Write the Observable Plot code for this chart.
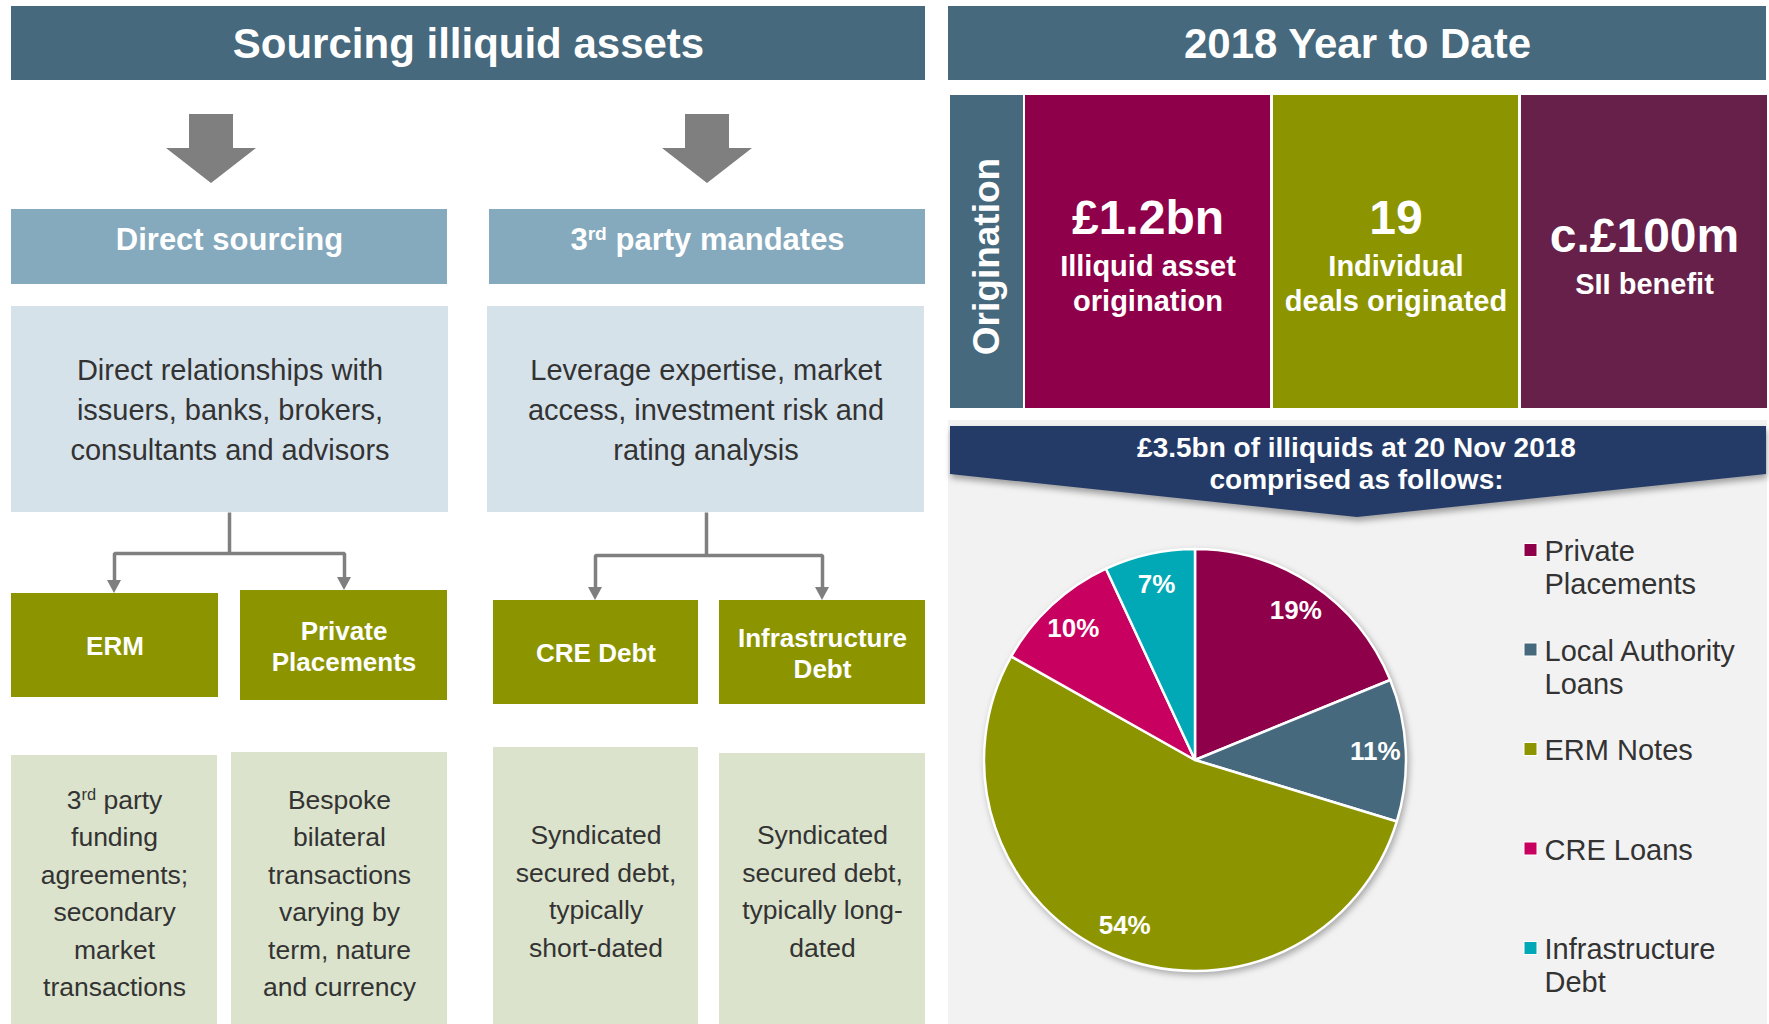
<!DOCTYPE html>
<html><head><meta charset="utf-8">
<script src="https://cdn.jsdelivr.net/npm/d3@7"></script>
<script src="https://cdn.jsdelivr.net/npm/@observablehq/plot@0.6"></script>
<style>html,body{margin:0;padding:0;background:#fff;} #chart svg{display:block}</style>
</head><body><div id="chart"></div>
<script>
// ---------- DATA ----------
const sectionTitles = ["Sourcing illiquid assets", "2018 Year to Date"];
const channels = ["Direct sourcing", "3rd party mandates"];
const channelDescriptions = [
  "Direct relationships with\nissuers, banks, brokers,\nconsultants and advisors",
  "Leverage expertise, market\naccess, investment risk and\nrating analysis"
];
const assetTypes = ["ERM", "Private\nPlacements", "CRE Debt", "Infrastructure\nDebt"];
const assetDescriptions = [
  "3rd party\nfunding\nagreements;\nsecondary\nmarket\ntransactions",
  "Bespoke\nbilateral\ntransactions\nvarying by\nterm, nature\nand currency",
  "Syndicated\nsecured debt,\ntypically\nshort-dated",
  "Syndicated\nsecured debt,\ntypically long-\ndated"
];
const originationLabel = "Origination";
const originationHeadlines = ["£1.2bn", "19", "c.£100m"];
const originationCaptions = ["Illiquid asset\norigination", "Individual\ndeals originated", "SII benefit"];
const bannerText = "£3.5bn of illiquids at 20 Nov 2018\ncomprised as follows:";
const pieCategories = ["Private\nPlacements", "Local Authority\nLoans", "ERM Notes", "CRE Loans", "Infrastructure\nDebt"];
const pieShares = [19, 11, 54, 10, 7];

// ---------- STYLE ----------
const FONT = "'Liberation Sans', Arial, Helvetica, sans-serif";
const COL = {title:"#46697d", header:"#85a9bd", desc:"#d6e2ea", olive:"#8c9500", sage:"#dce3cc",
  arrow:"#7f7f7f", navy:"#243b68", panel:"#f2f2f2", text:"#333333"};
const tileColors = [COL.title, "#8e0049", "#8c9500", "#66204a"];
const pieColors = ["#8e0049", "#46697d", "#8c9500", "#c8005f", "#00a9b5"];

// ---------- LAYOUT (pixel frame) ----------
const W = 1769, H = 1024;
const titleBoxes = [[11,925,6,80],[948,1766,6,80]];
const headerBoxes = [[11,447,209,284],[489,925,209,284]];
const descBoxes = [[11,448,306,512],[487,924,306,512]];
const assetBoxes = [[11,218,593,697],[240,447,590,700],[493,698,600,704],[719,925,600,704]];
const assetDescBoxes = [[11,217,755,1024],[231,447,752,1024],[493,698,747,1024],[719,925,753,1024]];
const tileBoxes = [[950,1023,95,408],[1025,1270,95,408],[1273,1518,95,408],[1521,1767,95,408]];
const panelBox = [948,1767,420,1024];
const bigArrowX = [211, 707];
const connectorPaths = [
  [[229,512],[229,553],[114,553],[114,584]],
  [[229,553],[344,553],[344,581]],
  [[706,512],[706,555],[595,555],[595,591]],
  [[706,555],[822,555],[822,591]]
];
const arrowTips = [[114,593],[344,590],[595,600],[822,600]];
const pieCenter = [1195, 760], pieRadius = 211, labelRadius = 180;
const legendX = 1524, legendY0 = 550, legendStep = 99.5, legendLine = 33;

const cx = b => (b[0]+b[1])/2, cy = b => (b[2]+b[3])/2;

function polygonMark(polys, attrs) {
  return (index, scales) => {
    const g = d3.create("svg:g");
    for (const pts of polys) {
      const p = g.append("path")
        .attr("d", "M" + pts.map(([x,y]) => scales.x(x) + "," + scales.y(y)).join("L") + "Z");
      for (const k in attrs) p.attr(k, attrs[k]);
    }
    return g.node();
  };
}

const bigArrows = bigArrowX.map(x => [[x-22,114],[x+22,114],[x+22,148],[x+45,148],[x,183],[x-45,148],[x-22,148]]);
const smallHeads = arrowTips.map(([x,y]) => [[x-7,y-13],[x+7,y-13],[x,y]]);
const banner = [[950,426],[1766,426],[1766,474],[1357,517],[950,474]];

// pie geometry from values
const arcs = d3.pie().sort(null).value(d => d)(pieShares);
const labelArc = d3.arc().innerRadius(labelRadius).outerRadius(labelRadius);

function pieMark(index, scales) {
  const g = d3.create("svg:g")
    .attr("transform", `translate(${scales.x(pieCenter[0])},${scales.y(pieCenter[1])})`)
    .style("filter", "drop-shadow(2px 3px 3px rgba(0,0,0,0.3))");
  const r = scales.x(pieCenter[0] + pieRadius) - scales.x(pieCenter[0]);
  const arc = d3.arc().innerRadius(0).outerRadius(r);
  g.selectAll("path").data(arcs).join("path")
    .attr("d", arc).attr("fill", (d,i) => pieColors[i])
    .attr("stroke", "#fff").attr("stroke-width", 2.5).attr("stroke-linejoin", "round");
  return g.node();
}

const rectOpts = (fill) => ({x1: d=>d[0], x2: d=>d[1], y1: d=>d[2], y2: d=>d[3], fill});

const chart = Plot.plot({
  width: W, height: H, margin: 0,
  x: {domain: [0, W], range: [0, W], axis: null},
  y: {domain: [0, H], range: [0, H], axis: null},
  style: {fontFamily: FONT, background: "#fff", overflow: "visible"},
  marks: [
    Plot.rect([panelBox], rectOpts(COL.panel)),
    Plot.rect(titleBoxes, rectOpts(COL.title)),
    Plot.text(sectionTitles, {x: (d,i)=>cx(titleBoxes[i]), y: (d,i)=>cy(titleBoxes[i])+1, text: d=>d,
      fill: "#fff", fontSize: 42, fontWeight: "bold"}),
    polygonMark(bigArrows, {fill: COL.arrow}),
    Plot.rect(headerBoxes, rectOpts(COL.header)),
    Plot.text(channels, {x: (d,i)=>cx(headerBoxes[i]), y: (d,i)=>cy(headerBoxes[i])-7, text: d=>d,
      fill: "#fff", fontSize: 31, fontWeight: "bold"}),
    Plot.rect(descBoxes, rectOpts(COL.desc)),
    Plot.text(channelDescriptions, {x: (d,i)=>cx(descBoxes[i]), y: (d,i)=>cy(descBoxes[i])-2, text: d=>d,
      fill: COL.text, fontSize: 29, lineHeight: 1.38}),
    Plot.line(connectorPaths.flatMap((p,k) => p.map(pt => ({x: pt[0], y: pt[1], k}))),
      {x: "x", y: "y", z: "k", stroke: COL.arrow, strokeWidth: 3.5, strokeLinejoin: "miter", strokeLinecap: "butt"}),
    polygonMark(smallHeads, {fill: COL.arrow}),
    Plot.rect(assetBoxes, rectOpts(COL.olive)),
    Plot.text(assetTypes, {x: (d,i)=>cx(assetBoxes[i]), y: (d,i)=>cy(assetBoxes[i]), text: d=>d,
      fill: "#fff", fontSize: 26, fontWeight: "bold", lineHeight: 1.2}),
    Plot.rect(assetDescBoxes, rectOpts(COL.sage)),
    Plot.text(assetDescriptions, {x: (d,i)=>cx(assetDescBoxes[i]), y: (d,i)=> i < 2 ? 890 : 888, text: d=>d,
      fill: COL.text, fontSize: 26.5, lineHeight: 1.41}),
    Plot.rect(tileBoxes, {...rectOpts((d,i)=>tileColors[i])}),
    Plot.text([originationLabel], {x: cx(tileBoxes[0]), y: 256, text: d=>d, rotate: -90,
      fill: "#fff", fontSize: 37, fontWeight: "bold"}),
    Plot.text(originationHeadlines, {x: (d,i)=>cx(tileBoxes[i+1]), y: (d,i)=> i===2 ? 236 : 218, text: d=>d,
      fill: "#fff", fontSize: 48, fontWeight: "bold"}),
    Plot.text(originationCaptions, {x: (d,i)=>cx(tileBoxes[i+1]), y: (d,i)=> i===2 ? 282 : 282, text: d=>d,
      fill: "#fff", fontSize: 29, fontWeight: "bold", lineHeight: 1.2}),
    polygonMark([banner], {fill: COL.navy, style: "filter: drop-shadow(1px 4px 3px rgba(0,0,0,0.35))"}),
    Plot.text([bannerText], {x: 1356, y: 462, text: d=>d, fill: "#fff", fontSize: 28, fontWeight: "bold", lineHeight: 1.15}),
    pieMark,
    Plot.text(arcs, {x: d => pieCenter[0] + labelArc.centroid(d)[0], y: d => pieCenter[1] + labelArc.centroid(d)[1],
      text: d => d.data + "%", fill: "#fff", fontSize: 26, fontWeight: "bold"}),
    Plot.rect(pieCategories, {x1: legendX, x2: legendX+13, y1: (d,i)=>legendY0+i*legendStep-6.5, y2: (d,i)=>legendY0+i*legendStep+6.5,
      fill: (d,i)=>pieColors[i], stroke: "#fff", strokeWidth: 1}),
    Plot.text(pieCategories, {x: legendX+20, y: (d,i)=> legendY0 + i*legendStep + (d.split("\n").length-1)*legendLine/2,
      text: d=>d, textAnchor: "start", fill: COL.text, fontSize: 29, lineHeight: legendLine/29})
  ]
});

document.getElementById("chart").appendChild(chart);

// superscript "rd" in "3rd"
(function superscript(root) {
  const walker = document.createTreeWalker(root, NodeFilter.SHOW_TEXT);
  const nodes = [];
  while (walker.nextNode()) if (/3rd/.test(walker.currentNode.nodeValue)) nodes.push(walker.currentNode);
  for (const n of nodes) {
    const v = n.nodeValue, k = v.indexOf("3rd");
    const parent = n.parentNode;
    const before = document.createTextNode(v.slice(0, k + 1));
    const sup = document.createElementNS("http://www.w3.org/2000/svg", "tspan");
    sup.setAttribute("baseline-shift", "super");
    sup.setAttribute("font-size", "62%");
    sup.textContent = "rd";
    const after = document.createTextNode(v.slice(k + 3));
    parent.insertBefore(before, n);
    parent.insertBefore(sup, n);
    parent.insertBefore(after, n);
    parent.removeChild(n);
  }
})(chart);
</script>
</body></html>
